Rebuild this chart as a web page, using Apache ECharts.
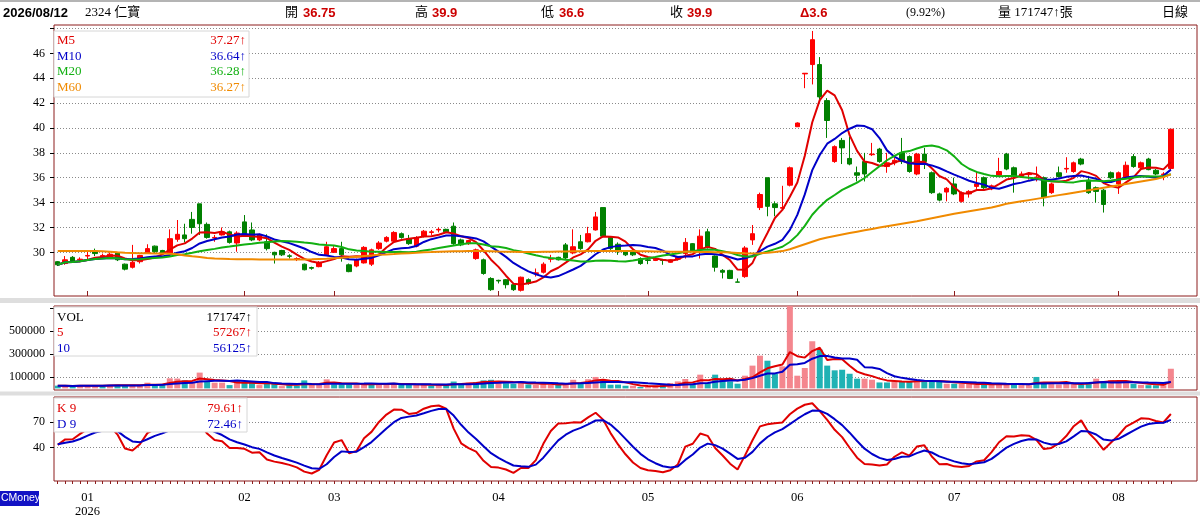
<!DOCTYPE html>
<html>
<head>
<meta charset="utf-8">
<title>2324 仁寶 日線</title>
<script src="https://cdn.jsdelivr.net/npm/echarts@6.0.0/dist/echarts.min.js"></script>
<style>
  html, body { margin: 0; padding: 0; background: #fff; }
  #chart { width: 1200px; height: 517px; }
</style>
</head>
<body>
<div id="chart"></div>
<script>
const palette = {
  up: "#ff0000",
  down: "#008000",
  volUp: "#f4868e",
  volDown: "#1fb2b4",
  m5: "#e00000",
  m10: "#0000c8",
  m20: "#12b012",
  m60: "#f08a00",
  frame: "#8c1c1c",
  grid: "#8a8a8a",
  band: "#dedede",
};
const serif = '"Liberation Serif", "Noto Sans CJK TC", serif';
const sans = '"Liberation Sans", "Noto Sans CJK TC", sans-serif';

// trading days shown on the chart, by month
const tradingDays = [
  ["2025-12", [26, 29, 30, 31]],
  ["2026-01", [2, 5, 6, 7, 8, 9, 12, 13, 14, 15, 16, 19, 20, 21, 22, 23, 26, 27, 28, 29, 30]],
  ["2026-02", [2, 3, 4, 5, 6, 9, 10, 11, 23, 24, 25, 26]],
  ["2026-03", [2, 3, 4, 5, 6, 9, 10, 11, 12, 13, 16, 17, 18, 19, 20, 23, 24, 25, 26, 27, 30, 31]],
  ["2026-04", [1, 2, 7, 8, 9, 10, 13, 14, 15, 16, 17, 20, 21, 22, 23, 24, 27, 28, 29, 30]],
  ["2026-05", [4, 5, 6, 7, 8, 11, 12, 13, 14, 15, 18, 19, 20, 21, 22, 25, 26, 27, 28, 29]],
  ["2026-06", [1, 2, 3, 4, 5, 8, 9, 10, 11, 12, 15, 16, 17, 18, 22, 23, 24, 25, 26, 29, 30]],
  ["2026-07", [1, 2, 3, 6, 7, 8, 9, 10, 13, 14, 15, 16, 17, 20, 21, 22, 23, 24, 27, 28, 30, 31]],
  ["2026-08", [3, 4, 5, 6, 7, 10, 11, 12]],
];

// [open, close, low, high]
const candles = [
  [29.25, 29.0, 28.9, 29.3], [29.1, 29.4, 29.0, 29.7], [29.6, 29.3, 29.2, 29.7], [29.4, 29.45, 29.2, 29.6], [29.7, 29.75, 29.45, 30.05],
  [30.1, 29.9, 29.7, 30.3], [29.6, 29.75, 29.5, 29.9], [29.6, 29.85, 29.5, 30.0], [29.95, 29.4, 29.3, 30.0], [29.05, 28.65, 28.55, 29.1],
  [28.8, 29.2, 28.7, 30.6], [29.25, 29.75, 29.1, 29.8], [29.95, 30.3, 29.9, 30.65], [30.5, 30.05, 29.95, 30.55], [30.15, 29.9, 29.85, 30.2],
  [29.9, 31.1, 29.85, 31.85], [31.05, 31.45, 30.85, 32.6], [31.4, 31.1, 30.8, 32.3], [32.65, 32.0, 31.5, 33.25], [33.9, 32.3, 31.4, 33.9],
  [32.25, 31.2, 31.1, 32.4], [31.15, 31.2, 30.85, 31.4], [31.4, 31.65, 31.35, 32.0], [31.65, 30.8, 30.7, 31.75], [30.75, 31.55, 30.05, 31.7],
  [32.45, 31.45, 31.3, 33.0], [31.8, 31.0, 30.9, 32.4], [31.0, 31.4, 30.9, 31.5], [30.85, 30.3, 30.15, 31.45], [30.0, 29.8, 29.1, 30.05],
  [30.15, 29.8, 29.7, 30.2], [29.72, 29.68, 29.5, 29.85], [29.45, 29.5, 29.3, 29.6], [29.05, 28.6, 28.55, 29.1], [28.78, 28.72, 28.6, 28.85],
  [28.85, 29.2, 28.8, 29.3], [29.8, 30.45, 29.7, 30.85], [30.0, 30.3, 29.95, 30.5], [30.3, 29.8, 29.25, 30.85], [29.0, 28.45, 28.4, 29.1],
  [28.9, 29.4, 28.8, 29.5], [29.15, 30.4, 29.1, 30.5], [29.05, 30.2, 28.9, 30.3], [30.3, 30.75, 30.2, 30.9], [30.9, 31.2, 30.8, 31.3],
  [30.9, 31.6, 30.8, 31.7], [31.5, 31.2, 31.1, 31.6], [31.1, 30.7, 30.6, 31.4], [30.5, 31.2, 30.4, 31.3], [31.3, 31.7, 31.2, 31.8],
  [31.6, 31.65, 31.4, 31.8], [31.8, 31.85, 31.6, 32.0], [31.85, 31.65, 31.6, 31.9], [32.1, 30.7, 30.6, 32.4], [31.0, 30.6, 30.5, 31.1],
  [30.7, 30.95, 30.6, 31.0], [29.5, 30.2, 29.4, 30.3], [29.4, 28.3, 28.2, 29.5], [27.9, 27.0, 26.9, 28.0], [27.75, 27.7, 27.5, 27.8],
  [27.8, 27.4, 27.1, 27.85], [27.4, 27.0, 26.9, 27.5], [26.95, 28.0, 26.85, 28.05], [27.8, 27.5, 27.4, 27.9], [28.3, 28.35, 28.05, 28.7],
  [28.4, 29.05, 28.3, 29.2], [29.45, 29.5, 29.2, 29.8], [29.6, 29.4, 29.35, 29.65], [30.6, 29.55, 29.45, 30.75], [29.95, 30.45, 29.85, 31.85],
  [30.85, 30.3, 30.2, 31.4], [30.85, 31.5, 30.8, 32.05], [31.8, 32.85, 31.75, 33.25], [33.6, 31.3, 31.2, 33.6], [31.2, 30.3, 30.2, 31.3],
  [30.65, 30.05, 29.8, 30.8], [30.05, 29.8, 29.7, 30.1], [30.0, 29.8, 29.7, 30.05], [29.5, 29.1, 29.0, 29.6], [29.4, 29.35, 29.05, 29.65],
  [29.35, 29.45, 29.3, 29.55], [29.4, 29.35, 29.0, 29.45], [29.2, 29.4, 29.15, 29.45], [29.45, 29.6, 29.35, 29.7], [29.9, 30.8, 29.5, 31.15],
  [30.7, 30.1, 30.05, 30.75], [30.2, 31.3, 29.5, 31.85], [31.65, 30.4, 30.3, 31.9], [29.7, 28.8, 28.45, 29.75], [28.55, 28.4, 27.9, 28.65],
  [28.55, 27.9, 27.85, 28.6], [27.62, 27.6, 27.6, 27.9], [28.05, 30.35, 27.95, 30.5], [31.0, 31.5, 30.6, 32.2], [33.6, 34.65, 33.4, 34.8],
  [36.0, 33.7, 32.9, 36.0], [33.9, 33.6, 32.9, 34.1], [33.55, 33.6, 33.4, 35.35], [35.4, 36.8, 35.3, 36.9], [40.1, 40.4, 40.1, 40.45],
  [44.35, 44.4, 43.2, 44.4], [45.1, 47.1, 43.5, 47.8], [45.1, 42.5, 42.3, 45.7], [42.2, 40.6, 39.2, 42.4], [37.3, 38.5, 37.2, 38.6],
  [39.0, 38.4, 37.1, 39.2], [37.55, 37.1, 37.0, 39.3], [36.4, 36.2, 35.7, 36.9], [37.3, 36.3, 35.7, 38.0], [37.85, 37.9, 37.75, 38.8],
  [38.3, 37.3, 37.2, 38.4], [36.9, 37.2, 36.4, 38.0], [37.2, 37.4, 37.0, 37.6], [38.0, 37.3, 37.1, 39.2], [37.7, 36.5, 36.4, 37.8],
  [36.3, 37.9, 36.2, 38.0], [37.9, 37.3, 36.7, 38.4], [36.4, 34.8, 34.7, 36.5], [34.7, 34.2, 34.1, 34.8], [34.85, 35.15, 34.1, 35.25],
  [35.5, 34.7, 34.6, 36.0], [34.1, 34.8, 34.0, 34.9], [34.7, 34.9, 34.4, 35.0], [35.3, 35.5, 35.1, 36.5], [36.0, 35.2, 35.1, 36.1],
  [35.1, 35.35, 35.0, 35.45], [36.2, 36.5, 36.1, 37.6], [37.9, 36.7, 36.6, 38.0], [36.8, 36.1, 34.8, 36.9], [36.1, 36.3, 36.0, 36.5],
  [36.25, 36.3, 35.85, 36.45], [36.0, 36.05, 35.7, 36.9], [36.0, 34.4, 33.7, 36.1], [34.8, 35.5, 34.7, 35.6], [36.4, 36.1, 36.0, 36.9],
  [36.7, 36.75, 36.4, 37.65], [36.5, 37.2, 36.4, 37.3], [37.5, 37.1, 37.0, 37.6], [35.8, 34.8, 34.7, 36.15], [35.2, 34.9, 34.0, 35.3],
  [35.0, 33.85, 33.2, 35.1], [36.4, 36.0, 35.9, 36.5], [35.5, 36.4, 34.7, 36.5], [36.0, 37.0, 35.9, 37.3], [37.7, 36.9, 36.8, 37.9],
  [36.8, 37.2, 36.7, 37.3], [37.5, 36.65, 36.6, 37.6], [36.6, 36.3, 36.2, 36.7], [36.25, 36.3, 35.8, 36.45], [36.75, 39.9, 36.6, 39.9],
];

// shares traded (張)
const volumes = [
  24000, 22000, 20000, 25000, 24000, 23000, 26000, 30000, 31000, 30000,
  24000, 25000, 50000, 35000, 34000, 88000, 86000, 70000, 50000, 138000,
  59000, 50000, 50000, 29000, 65000, 50000, 48000, 29000, 41000, 40000,
  20000, 29000, 25000, 70000, 41000, 30000, 79000, 35000, 36000, 35000,
  34000, 36000, 41000, 41000, 40000, 42000, 30000, 35000, 30000, 35000,
  25000, 30000, 30000, 60000, 45000, 50000, 55000, 70000, 75000, 50000,
  45000, 40000, 60000, 35000, 30000, 40000, 35000, 30000, 45000, 75000,
  50000, 80000, 100000, 75000, 32000, 33000, 23000, 23000, 12000, 12000,
  23000, 32000, 47000, 61000, 82000, 41000, 120000, 47000, 120000, 76000,
  61000, 41000, 111000, 199000, 286000, 242000, 128000, 193000, 735000, 111000,
  178000, 412000, 339000, 199000, 158000, 163000, 128000, 85000, 85000, 76000,
  52000, 52000, 61000, 61000, 61000, 76000, 61000, 61000, 61000, 41000,
  41000, 41000, 41000, 32000, 35000, 30000, 45000, 38000, 45000, 30000,
  28000, 100000, 55000, 40000, 35000, 45000, 40000, 35000, 55000, 85000,
  60000, 72915, 52000, 50000, 40000, 31000, 28000, 27000, 28588, 171747,
];

// 60-day average (needs history before the window)
const ma60 = [
  30.1, 30.1, 30.1, 30.1, 30.1, 30.1, 30.08, 30.05, 30.0, 29.97,
  29.95, 29.93, 29.92, 29.9, 29.9, 29.88, 29.85, 29.75, 29.68, 29.62,
  29.55, 29.5, 29.48, 29.46, 29.45, 29.45, 29.44, 29.43, 29.43, 29.42,
  29.42, 29.42, 29.42, 29.43, 29.44, 29.46, 29.48, 29.52, 29.56, 29.6,
  29.65, 29.7, 29.75, 29.8, 29.83, 29.86, 29.9, 29.93, 29.96, 30.0,
  30.02, 30.05, 30.07, 30.08, 30.09, 30.1, 30.1, 30.1, 30.08, 30.06,
  30.05, 30.04, 30.03, 30.03, 30.03, 30.04, 30.05, 30.06, 30.07, 30.08,
  30.09, 30.1, 30.1, 30.1, 30.1, 30.1, 30.1, 30.1, 30.09, 30.08,
  30.07, 30.06, 30.05, 30.05, 30.05, 30.04, 30.03, 30.02, 30.0, 30.0,
  29.98, 29.95, 29.92, 29.9, 29.92, 29.96, 30.02, 30.1, 30.25, 30.45,
  30.65, 30.85, 31.05, 31.2, 31.32, 31.44, 31.55, 31.66, 31.77, 31.88,
  31.99, 32.1, 32.2, 32.3, 32.4, 32.5, 32.62, 32.74, 32.86, 32.98,
  33.1, 33.2, 33.3, 33.4, 33.5, 33.6, 33.75, 33.9, 34.0, 34.1,
  34.2, 34.3, 34.4, 34.5, 34.6, 34.7, 34.8, 34.9, 35.0, 35.1,
  35.2, 35.3, 35.4, 35.5, 35.6, 35.7, 35.8, 35.9, 36.05, 36.27,
];

const priceTicks = [30, 32, 34, 36, 38, 40, 42, 44, 46, 48];
const priceLabels = [30, 32, 34, 36, 38, 40, 42, 44, 46];
const volumeTicks = [100000, 300000, 500000, 700000];
const volumeLabels = [100000, 300000, 500000];
const kdTicks = [40, 70];
const kdStart = [52, 44]; // K, D carried in from before the window

const header = [
  { x: 3, text: "2026/08/12", font: `bold 13px ${sans}`, fill: "#000" },
  { x: 85, text: "2324 仁寶", font: `13px ${serif}`, fill: "#000" },
  { x: 285, text: "開", font: `13px ${serif}`, fill: "#000" },
  { x: 303, text: "36.75", font: `bold 13px ${sans}`, fill: "#cc0000" },
  { x: 415, text: "高", font: `13px ${serif}`, fill: "#000" },
  { x: 432, text: "39.9", font: `bold 13px ${sans}`, fill: "#cc0000" },
  { x: 541, text: "低", font: `13px ${serif}`, fill: "#000" },
  { x: 559, text: "36.6", font: `bold 13px ${sans}`, fill: "#cc0000" },
  { x: 670, text: "收", font: `13px ${serif}`, fill: "#000" },
  { x: 687, text: "39.9", font: `bold 13px ${sans}`, fill: "#cc0000" },
  { x: 800, text: "Δ3.6", font: `bold 13px ${sans}`, fill: "#cc0000" },
  { x: 906, text: "(9.92%)", font: `12px ${serif}`, fill: "#000" },
  { x: 998, text: "量 171747↑張", font: `13px ${serif}`, fill: "#000" },
  { x: 1162, text: "日線", font: `13px ${serif}`, fill: "#000" },
];

const priceLegend = [
  { name: "M5", value: "37.27↑", color: palette.m5 },
  { name: "M10", value: "36.64↑", color: palette.m10 },
  { name: "M20", value: "36.28↑", color: palette.m20 },
  { name: "M60", value: "36.27↑", color: palette.m60 },
];
const volumeLegend = [
  { name: "VOL", value: "171747↑", color: "#000" },
  { name: "5", value: "57267↑", color: palette.m5 },
  { name: "10", value: "56125↑", color: palette.m10 },
];
const kdLegend = [
  { name: "K 9", value: "79.61↑", color: palette.m5 },
  { name: "D 9", value: "72.46↑", color: palette.m10 },
];

const dates = tradingDays.flatMap(([month, days]) =>
  days.map((d) => `${month}-${String(d).padStart(2, "0")}`),
);
const categories = dates.concat(["", "", ""]);
const closes = candles.map((row) => row[1]);

function isMonthStart(index) {
  if (index <= 0 || index >= dates.length) return false;
  return dates[index].slice(0, 7) !== dates[index - 1].slice(0, 7);
}

function monthLabel(value) {
  if (!value) return "";
  const [year, month] = value.split("-");
  return month === "01" ? `${month}\n${year}` : month;
}

function movingAverage(values, n) {
  return values.map((_, i) => {
    const win = values.slice(Math.max(0, i - n + 1), i + 1);
    return +(win.reduce((a, b) => a + b, 0) / win.length).toFixed(3);
  });
}

function kdLines(rows, n, start) {
  let [k, d] = start;
  const ks = [];
  const ds = [];
  rows.forEach((row, i) => {
    const win = rows.slice(Math.max(0, i - n + 1), i + 1);
    const hi = Math.max(...win.map((r) => r[3]));
    const lo = Math.min(...win.map((r) => r[2]));
    const rsv = hi === lo ? 50 : ((row[1] - lo) / (hi - lo)) * 100;
    k = (k * 2) / 3 + rsv / 3;
    d = (d * 2) / 3 + k / 3;
    ks.push(+k.toFixed(2));
    ds.push(+d.toFixed(2));
  });
  return [ks, ds];
}

function lineSeries(name, data, color, axis) {
  return {
    name,
    type: "line",
    xAxisIndex: axis,
    yAxisIndex: axis,
    data,
    symbol: "none",
    showSymbol: false,
    silent: true,
    z: 3,
    lineStyle: { color, width: 2 },
    itemStyle: { color },
  };
}

// opaque legend panel drawn over the plot, like the original
function legendBox(x, y, width, height, rows, rowY, valueRight) {
  const items = [
    {
      type: "rect",
      z: 100,
      shape: { x, y, width, height },
      style: { fill: "#fff", stroke: "#d6d6d6", lineWidth: 1 },
    },
  ];
  rows.forEach((row, i) => {
    items.push({
      type: "text",
      z: 101,
      x: x + 3,
      y: rowY[i],
      style: { text: row.name, fill: row.color, font: `13px ${serif}`, verticalAlign: "middle" },
    });
    items.push({
      type: "text",
      z: 101,
      x: valueRight,
      y: rowY[i],
      style: { text: row.value, fill: row.color, font: `13px ${serif}`, align: "right", verticalAlign: "middle" },
    });
  });
  return items;
}

const [kLine, dLine] = kdLines(candles, 9, kdStart);
const volumeBars = volumes.map((v, i) => {
  const prev = i ? closes[i - 1] : candles[i][0];
  return { value: v, itemStyle: { color: closes[i] >= prev ? palette.volUp : palette.volDown } };
});

const gridBase = {
  left: 54,
  right: 3,
  show: true,
  containLabel: false,
  outerBoundsMode: "none",
  borderColor: palette.frame,
  borderWidth: 1,
  backgroundColor: "#fff",
};
const xBase = {
  type: "category",
  data: categories,
  boundaryGap: true,
  axisLine: { show: false },
  splitLine: { show: false },
};
const splitDots = { show: true, lineStyle: { color: palette.grid, type: [1, 2], width: 1 } };
const yLabel = { color: "#000", fontFamily: serif, fontSize: 12, margin: 9 };

const option = {
  animation: false,
  backgroundColor: "#fff",
  grid: [
    { ...gridBase, top: 25, height: 271 },
    { ...gridBase, top: 306, height: 84 },
    { ...gridBase, top: 397, height: 84 },
  ],
  xAxis: [
    {
      ...xBase,
      gridIndex: 0,
      axisLabel: { show: false },
      axisTick: {
        show: true,
        inside: true,
        length: 5,
        alignWithLabel: true,
        interval: isMonthStart,
        lineStyle: { color: palette.frame },
      },
    },
    { ...xBase, gridIndex: 1, axisLabel: { show: false }, axisTick: { show: false } },
    {
      ...xBase,
      gridIndex: 2,
      axisLabel: {
        show: true,
        interval: isMonthStart,
        formatter: monthLabel,
        color: "#000",
        fontFamily: serif,
        fontSize: 12.5,
        lineHeight: 14,
        margin: 10,
      },
      axisTick: {
        show: true,
        length: 3,
        alignWithLabel: true,
        interval: (i) => i < dates.length,
        lineStyle: { color: palette.frame },
      },
    },
  ],
  yAxis: [
    {
      type: "value",
      gridIndex: 0,
      min: 26.49,
      max: 48.28,
      axisLine: { show: false },
      axisTick: { show: true, length: 4, customValues: priceTicks, lineStyle: { color: "#000" } },
      axisLabel: { ...yLabel, customValues: priceLabels },
      splitLine: splitDots,
    },
    {
      type: "value",
      gridIndex: 1,
      min: -14000,
      max: 720000,
      axisLine: { show: false },
      axisTick: { show: true, length: 4, customValues: volumeTicks, lineStyle: { color: "#000" } },
      axisLabel: { ...yLabel, customValues: volumeLabels, formatter: (v) => String(v) },
      splitLine: splitDots,
    },
    {
      type: "value",
      gridIndex: 2,
      min: 0,
      max: 100,
      axisLine: { show: false },
      axisTick: { show: true, length: 4, customValues: kdTicks, lineStyle: { color: "#000" } },
      axisLabel: { ...yLabel, customValues: kdTicks },
      splitLine: splitDots,
    },
  ],
  series: [
    {
      name: "K線",
      type: "candlestick",
      xAxisIndex: 0,
      yAxisIndex: 0,
      data: candles,
      barWidth: 5,
      silent: true,
      itemStyle: {
        color: palette.up,
        color0: palette.down,
        borderColor: palette.up,
        borderColor0: palette.down,
        borderWidth: 1,
      },
    },
    lineSeries("M5", movingAverage(closes, 5), palette.m5, 0),
    lineSeries("M10", movingAverage(closes, 10), palette.m10, 0),
    lineSeries("M20", movingAverage(closes, 20), palette.m20, 0),
    lineSeries("M60", ma60, palette.m60, 0),
    {
      name: "VOL",
      type: "bar",
      xAxisIndex: 1,
      yAxisIndex: 1,
      data: volumeBars,
      barWidth: 6,
      silent: true,
    },
    lineSeries("5", movingAverage(volumes, 5), palette.m5, 1),
    lineSeries("10", movingAverage(volumes, 10), palette.m10, 1),
    lineSeries("K 9", kLine, palette.m5, 2),
    lineSeries("D 9", dLine, palette.m10, 2),
  ],
  graphic: [
    { type: "rect", z: 50, shape: { x: 0, y: 0, width: 1200, height: 2 }, style: { fill: "#b4b4b4" } },
    { type: "rect", z: 50, shape: { x: 0, y: 298, width: 1200, height: 5 }, style: { fill: palette.band } },
    { type: "rect", z: 50, shape: { x: 0, y: 391.5, width: 1200, height: 4 }, style: { fill: palette.band } },
    ...header.map((item) => ({
      type: "text",
      z: 100,
      x: item.x,
      y: 13,
      style: { text: item.text, fill: item.fill, font: item.font, verticalAlign: "middle" },
    })),
    ...legendBox(54, 31, 195, 66, priceLegend, [41, 56.5, 72, 87.5], 246),
    ...legendBox(54, 307, 203, 49, volumeLegend, [317.5, 333, 348.5], 252),
    ...legendBox(54, 398, 193, 34, kdLegend, [409, 425], 243),
    { type: "rect", z: 100, shape: { x: 0, y: 491, width: 39, height: 15 }, style: { fill: "#1212c4" } },
    {
      type: "text",
      z: 101,
      x: 1,
      y: 498.5,
      style: { text: "CMoney", fill: "#fff", font: `10.5px ${sans}`, verticalAlign: "middle" },
    },
  ],
};

const chart = echarts.init(document.getElementById("chart"), null, { renderer: "canvas" });
chart.setOption(option);
</script>
</body>
</html>
